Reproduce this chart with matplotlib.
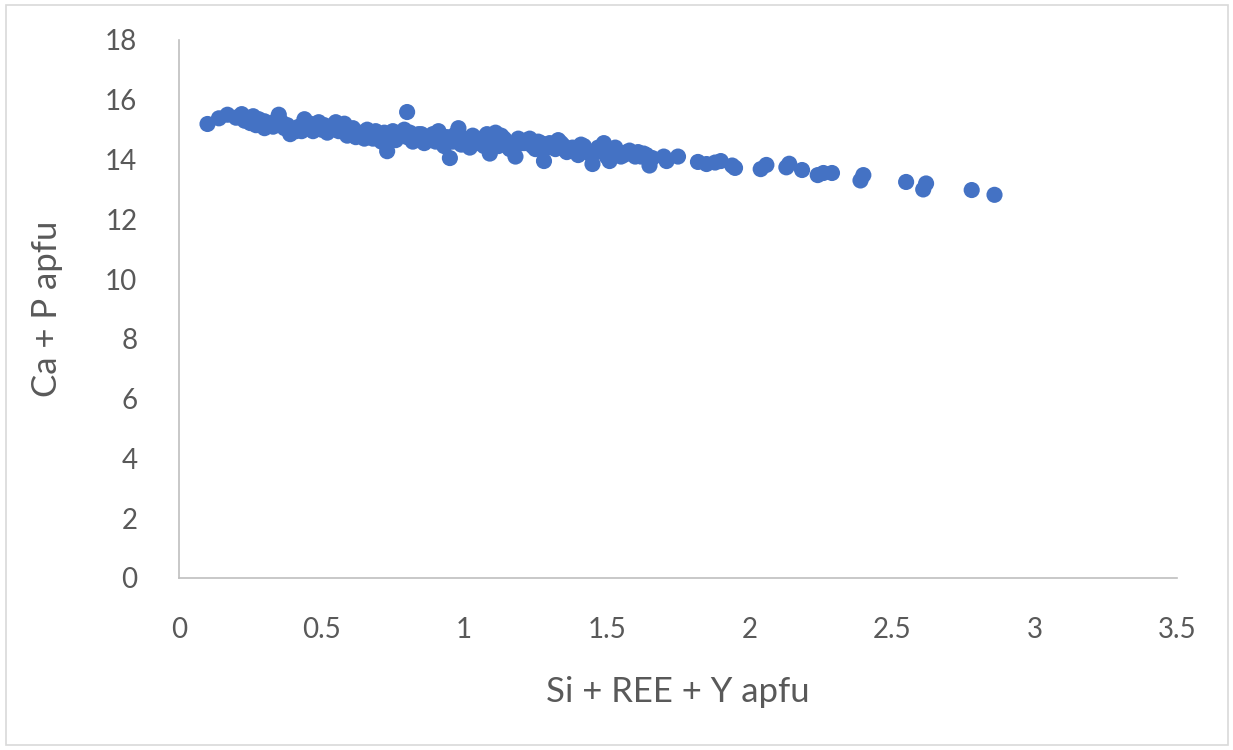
import matplotlib
matplotlib.use('Agg')
import matplotlib.pyplot as plt
from matplotlib.patches import Rectangle

# Si + REE + Y apfu
si_ree_y = [
    0.10, 0.14, 0.17, 0.20, 0.22, 0.23, 0.25, 0.26, 0.27, 0.28,
    0.30, 0.30, 0.32, 0.33, 0.35, 0.36, 0.37, 0.38, 0.39, 0.40,
    0.42, 0.43, 0.44, 0.45, 0.46, 0.47, 0.48, 0.50, 0.51, 0.53,
    0.55, 0.56, 0.57, 0.59, 0.60, 0.61, 0.62, 0.64, 0.65, 0.67,
    0.69, 0.70, 0.71, 0.72, 0.73, 0.74, 0.75, 0.76, 0.78, 0.79,
    0.80, 0.80, 0.81, 0.83, 0.85, 0.86, 0.87, 0.89, 0.90, 0.91,
    0.93, 0.94, 0.95, 0.96, 0.97, 0.98, 0.99, 1.00, 1.02, 1.03,
    1.05, 1.06, 1.08, 1.09, 1.10, 1.11, 1.12, 1.14, 1.15, 1.17,
    1.18, 1.19, 1.21, 1.22, 1.24, 1.26, 1.28, 1.29, 1.30, 1.32,
    1.33, 1.35, 1.36, 1.38, 1.40, 1.41, 1.43, 1.45, 1.46, 1.47,
    1.49, 1.50, 1.51, 1.52, 1.54, 1.56, 1.58, 1.60, 1.61, 1.63,
    1.65, 1.66, 1.70, 1.71, 1.75, 1.82, 1.85, 1.88, 1.90, 1.94,
    1.95, 2.04, 2.06, 2.13, 2.14, 2.185, 2.24, 2.26, 2.29, 2.39,
    2.40, 2.55, 2.61, 2.62, 2.78, 2.86,
    # extra points filling the dense band
    0.24, 0.29, 0.34, 0.41, 0.49, 0.52, 0.58, 0.63, 0.66, 0.68,
    0.77, 0.82, 0.84, 0.88, 0.92, 1.01, 1.04, 1.07, 1.13, 1.16,
    1.20, 1.23, 1.25, 1.27, 1.31, 1.34, 1.37, 1.39, 1.42, 1.44,
    1.48, 1.53, 1.55, 1.57, 1.59, 1.62, 1.64,
]

# Ca + P apfu
ca_p = [
    15.19, 15.38, 15.50, 15.40, 15.52, 15.30, 15.22, 15.45, 15.15, 15.35,
    15.05, 15.28, 15.20, 15.10, 15.50, 15.25, 15.05, 15.15, 14.85, 15.00,
    15.10, 14.95, 15.35, 15.05, 15.20, 14.95, 15.10, 15.00, 15.15, 15.05,
    15.25, 14.95, 15.10, 14.80, 15.00, 15.05, 14.75, 14.90, 14.70, 14.85,
    14.95, 14.75, 14.60, 14.90, 14.28, 14.80, 14.95, 14.65, 14.85, 15.00,
    15.59, 14.75, 14.90, 14.70, 14.85, 14.55, 14.75, 14.85, 14.60, 14.95,
    14.45, 14.75, 14.05, 14.60, 14.85, 15.05, 14.50, 14.70, 14.40, 14.80,
    14.55, 14.70, 14.85, 14.20, 14.60, 14.90, 14.45, 14.70, 14.55, 14.40,
    14.10, 14.70, 14.55, 14.65, 14.45, 14.60, 13.95, 14.40, 14.55, 14.35,
    14.65, 14.45, 14.25, 14.40, 14.15, 14.50, 14.30, 13.85, 14.25, 14.40,
    14.55, 14.10, 13.95, 14.35, 14.25, 14.15, 14.30, 14.10, 14.25, 14.20,
    13.80, 14.05, 14.10, 13.95, 14.10, 13.92, 13.85, 13.90, 13.95, 13.80,
    13.72, 13.68, 13.82, 13.74, 13.86, 13.65, 13.48, 13.55, 13.55, 13.30,
    13.48, 13.25, 13.00, 13.20, 12.98, 12.82,
    15.35, 15.15, 15.30, 14.95, 15.25, 14.90, 15.20, 14.80, 15.00, 14.70,
    14.85, 14.60, 14.85, 14.65, 14.80, 14.55, 14.65, 14.45, 14.80, 14.35,
    14.55, 14.70, 14.35, 14.55, 14.45, 14.55, 14.35, 14.30, 14.45, 14.20,
    14.30, 14.40, 14.10, 14.25, 14.20, 14.10, 14.15,
]

x_ticks = [0, 0.5, 1, 1.5, 2, 2.5, 3, 3.5]
x_tick_labels = ["0", "0.5", "1", "1.5", "2", "2.5", "3", "3.5"]
y_ticks = [0, 2, 4, 6, 8, 10, 12, 14, 16, 18]

plt.rcParams['font.family'] = ['Lato', 'DejaVu Sans']

fig = plt.figure(figsize=(12.33, 7.5), dpi=100)
ax = fig.add_axes([179 / 1233, 172 / 750, 998 / 1233, 538 / 750])

ax.scatter(si_ree_y, ca_p, s=135, color='#4472C4', edgecolors='none', zorder=3)

ax.set_xlim(0, 3.5)
ax.set_ylim(0, 18)
ax.set_xticks(x_ticks)
ax.set_xticklabels(x_tick_labels)
ax.set_yticks(y_ticks)
ax.tick_params(length=0, labelsize=20, colors='#595959')
ax.tick_params(axis='x', pad=28)
ax.tick_params(axis='y', pad=30)

for side in ['top', 'right']:
    ax.spines[side].set_visible(False)
for side in ['left', 'bottom']:
    ax.spines[side].set_color('#BFBFBF')
    ax.spines[side].set_linewidth(1.2)

ax.set_xlabel("Si + REE + Y apfu", fontsize=25, color='#595959', labelpad=24)
ax.set_ylabel("Ca + P apfu", fontsize=25, color='#595959', labelpad=30)

# outer chart border
fig.patches.append(Rectangle((6 / 1233, 5 / 750), 1222 / 1233, 740 / 750,
                             transform=fig.transFigure, fill=False,
                             edgecolor='#D9D9D9', linewidth=1.2))

fig.savefig('out.png', dpi=100)
